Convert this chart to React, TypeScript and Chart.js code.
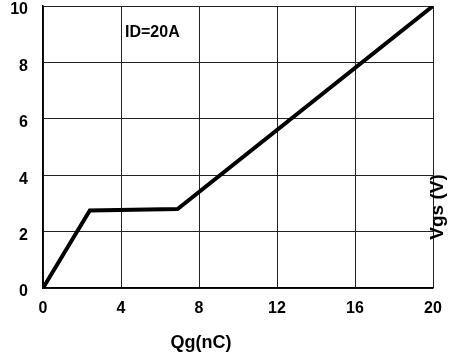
import React, { useEffect, useRef } from "react";
import { Chart, registerables } from "chart.js";

Chart.register(...registerables);

const qg = [0, 2.4, 6.9, 20];
const vgs = [0, 2.75, 2.8, 10];
const xTitle = "Qg(nC)";
const yTitle = "Vgs (V)";
const annotation = "ID=20A";

const FONT = "'Liberation Sans', Arial, sans-serif";

const textPlugin = {
  id: "customText",
  afterDraw(chart: any) {
    const ctx = chart.ctx;
    ctx.save();
    ctx.fillStyle = "#000";
    ctx.font = `bold 16px ${FONT}`;
    ctx.textAlign = "left";
    ctx.textBaseline = "middle";
    ctx.fillText(annotation, 125, 33);
    ctx.font = `bold 18px ${FONT}`;
    ctx.textAlign = "center";
    ctx.fillText(xTitle, 201, 343);
    ctx.translate(438, 207);
    ctx.rotate(-Math.PI / 2);
    ctx.font = `bold 19px ${FONT}`;
    ctx.fillText(yTitle, 0, 0);
    ctx.restore();
  },
};

export default function App() {
  const ref = useRef<HTMLCanvasElement>(null);
  useEffect(() => {
    if (!ref.current) return;
    const chart = new Chart(ref.current, {
      type: "line",
      data: {
        datasets: [
          {
            data: qg.map((x, i) => ({ x, y: vgs[i] })),
            borderColor: "#000",
            borderWidth: 4,
            pointRadius: 0,
            tension: 0,
            fill: false,
          },
        ],
      },
      options: {
        animation: false,
        responsive: false,
        maintainAspectRatio: false,
        layout: { padding: { top: 6, right: 16, left: 0, bottom: 0 } },
        plugins: { legend: { display: false }, tooltip: { enabled: false } },
        scales: {
          x: {
            type: "linear",
            min: 0,
            max: 20,
            ticks: { stepSize: 4, padding: 11, color: "#000", font: { family: FONT, size: 16, weight: "bold" } },
            grid: { color: "#222", lineWidth: 1, drawTicks: false },
            border: { color: "#000", width: 1.5 },
            afterFit: (s: any) => { s.height = 70; s.paddingLeft = 0; s.paddingRight = 0; },
          },
          y: {
            min: 0,
            max: 10,
            ticks: { stepSize: 2, padding: 15, labelOffset: 4, color: "#000", font: { family: FONT, size: 16, weight: "bold" } },
            grid: { color: "#222", lineWidth: 1, drawTicks: false },
            border: { color: "#000", width: 1.5 },
            afterFit: (s: any) => { s.width = 43; s.paddingTop = 0; s.paddingBottom = 0; },
          },
        },
      },
      plugins: [textPlugin],
    } as any);
    return () => chart.destroy();
  }, []);
  return (
    <div style={{ position: "fixed", left: 0, top: 0, width: 449, height: 358, background: "#fff" }}>
      <canvas ref={ref} width={449} height={358} />
    </div>
  );
}
